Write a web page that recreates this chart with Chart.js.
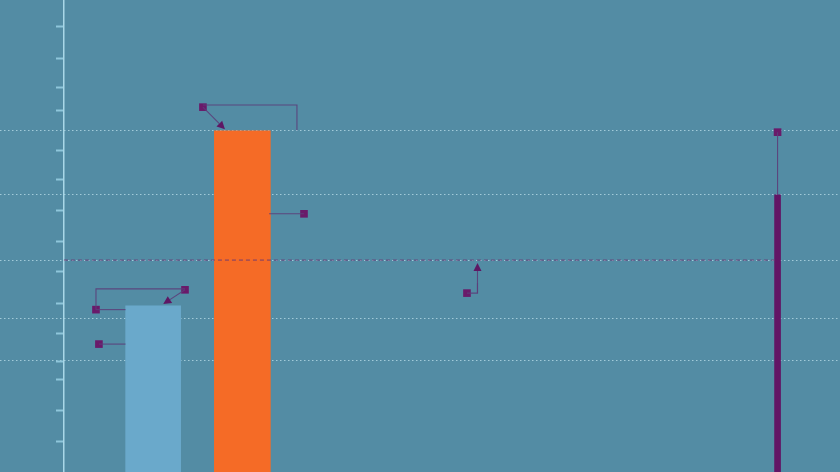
<!DOCTYPE html>
<html>
<head>
<meta charset="utf-8">
<script src="https://cdn.jsdelivr.net/npm/chart.js@4.4.1/dist/chart.umd.min.js"></script>
<style>
  html, body { margin: 0; padding: 0; background: #538ca4; overflow: hidden; }
  #wrap { width: 840px; height: 472px; position: relative; }
</style>
</head>
<body>
<div id="wrap"><canvas id="c"></canvas></div>
<script>
// ---- data ----
const barPositions = [1, 2, 8];
const barValues = [35.2, 72.3, 58.7];
const referenceValue = 44.9;
const referenceSpan = [0, 8];
const gridValues = [72.4, 58.7, 44.9, 32.6, 23.7];
const tickValues = [94.3, 87.7, 81.4, 76.5, 68.2, 61.9, 55.3, 48.9, 42.4, 35.8, 29.4, 23.5, 19.7, 13.1, 6.4];
const markerX = [1.558, 2.691, 0.359, 1.357, 0.392, 4.518, 8];
const markerY = [77.3, 54.7, 34.4, 38.6, 27.1, 37.9, 72.0];
const connectorLines = [
  [[1.558, 77.75], [2.612, 77.75], [2.612, 72.4]],
  [[2.30, 54.7], [2.691, 54.7]],
  [[0.359, 34.4], [0.69, 34.4]],
  [[0.359, 34.4], [0.359, 38.8], [1.357, 38.8]],
  [[0.392, 27.1], [0.69, 27.1]],
  [[4.518, 37.9], [4.636, 37.9], [4.636, 40.0]],
  [[8, 72.0], [8, 58.7]]
];
const arrowLines = [
  [[1.558, 77.3], [1.805, 72.6]],
  [[1.357, 38.6], [1.113, 35.6]],
  [[4.636, 37.9], [4.636, 44.3]]
];

// ---- styles ----
const barColors = ['#6aa9cb', '#f56b26', '#621565'];
const barWidths = [55, 56, 6];
const BG = '#538ca4';

const bgPlugin = {
  id: 'bg',
  beforeDraw(chart) {
    const ctx = chart.ctx;
    ctx.save();
    ctx.fillStyle = BG;
    ctx.fillRect(0, 0, chart.width, chart.height);
    ctx.restore();
  }
};

const calloutPlugin = {
  id: 'callouts',
  afterDatasetsDraw(chart) {
    const {ctx, scales: {x, y}} = chart;
    ctx.save();
    ctx.strokeStyle = 'rgba(92,62,122,0.9)';
    ctx.lineWidth = 1.1;
    connectorLines.forEach(pts => {
      ctx.beginPath();
      pts.forEach((p, i) => {
        const px = x.getPixelForValue(p[0]), py = y.getPixelForValue(p[1]);
        if (i === 0) ctx.moveTo(px, py); else ctx.lineTo(px, py);
      });
      ctx.stroke();
    });
    arrowLines.forEach(([a, b]) => {
      const x1 = x.getPixelForValue(a[0]), y1 = y.getPixelForValue(a[1]);
      const x2 = x.getPixelForValue(b[0]), y2 = y.getPixelForValue(b[1]);
      const ang = Math.atan2(y2 - y1, x2 - x1);
      const len = 8, hw = 4;
      const bx = x2 - len * Math.cos(ang), by = y2 - len * Math.sin(ang);
      ctx.beginPath();
      ctx.moveTo(x1, y1);
      ctx.lineTo(bx, by);
      ctx.stroke();
      ctx.fillStyle = '#5e1764';
      ctx.beginPath();
      ctx.moveTo(x2, y2);
      ctx.lineTo(bx + hw * Math.sin(ang), by - hw * Math.cos(ang));
      ctx.lineTo(bx - hw * Math.sin(ang), by + hw * Math.cos(ang));
      ctx.closePath();
      ctx.fill();
    });
    ctx.restore();
  }
};

const barDatasets = barPositions.map((pos, i) => ({
  type: 'bar',
  data: [{x: pos, y: barValues[i]}],
  backgroundColor: barColors[i],
  borderWidth: 0,
  barThickness: barWidths[i],
  grouped: false,
  order: 3
}));

new Chart(document.getElementById('c'), {
  type: 'bar',
  data: {
    datasets: [
      {
        type: 'line',
        data: referenceSpan.map(v => ({x: v, y: referenceValue})),
        borderColor: 'rgba(105,55,115,0.9)',
        borderWidth: 1,
        borderDash: [4, 3],
        pointRadius: 0,
        fill: false,
        order: 1
      },
      {
        type: 'line',
        data: markerX.map((v, i) => ({x: v, y: markerY[i]})),
        showLine: false,
        pointStyle: 'rect',
        pointRadius: 5.4,
        pointHoverRadius: 5.4,
        pointBackgroundColor: '#6a1a6a',
        pointBorderWidth: 0,
        order: 0
      },
      ...barDatasets
    ]
  },
  options: {
    responsive: true,
    maintainAspectRatio: false,
    animation: false,
    layout: { padding: 0, autoPadding: false },
    plugins: { legend: { display: false }, tooltip: { enabled: false } },
    scales: {
      x: {
        type: 'linear',
        min: -0.717,
        max: 8.70,
        offset: false,
        display: false
      },
      y2: {
        type: 'linear',
        min: 0,
        max: 100,
        position: { x: 0 },
        afterBuildTicks: s => { s.ticks = gridValues.map(v => ({value: v})); },
        ticks: { display: false },
        grid: { drawTicks: false, tickLength: 0, color: 'rgba(195,228,240,0.7)', lineWidth: 1 },
        border: { display: false, dash: [1.5, 2.5] }
      },
      y: {
        type: 'linear',
        min: 0,
        max: 100,
        position: { x: 0 },
        afterBuildTicks: s => { s.ticks = tickValues.map(v => ({value: v})); },
        ticks: { display: false },
        grid: { drawOnChartArea: false, drawTicks: true, tickLength: 7, tickWidth: 2, tickColor: '#8fc6db' },
        border: { display: true, color: '#a9d7e7', width: 1.5 }
      }
    }
  },
  plugins: [bgPlugin, calloutPlugin]
});
</script>
</body>
</html>
